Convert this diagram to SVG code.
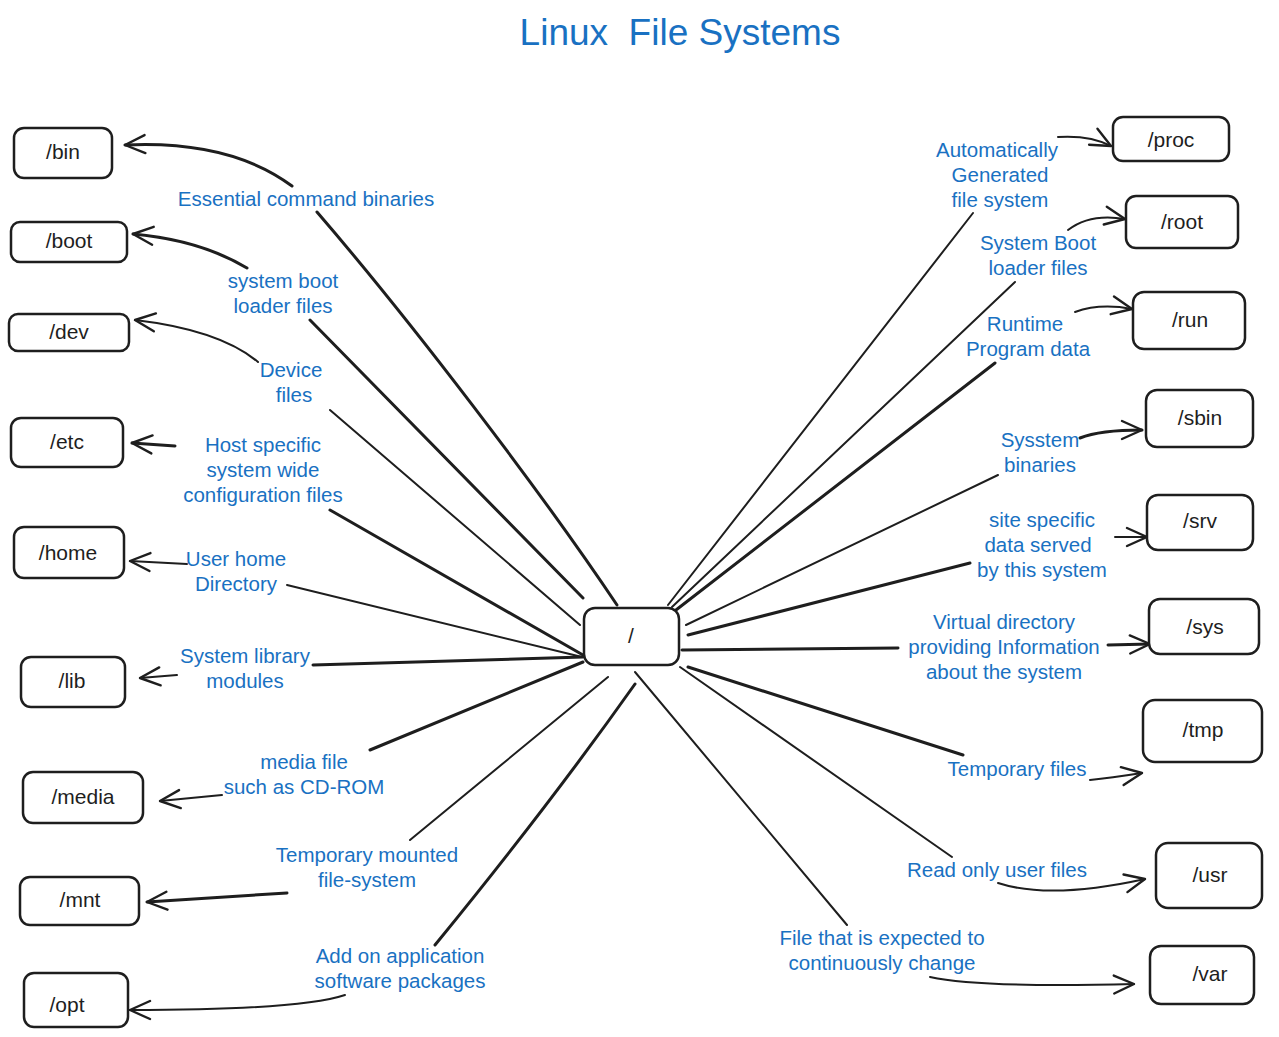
<svg xmlns="http://www.w3.org/2000/svg" width="1279" height="1037" viewBox="0 0 1279 1037">
<defs>
<style>
.box{fill:#fff;stroke:#1e1e1e;stroke-width:2.5}
.nt{font-family:"Liberation Sans","Open Sans",sans-serif;font-size:21px;fill:#1e1e1e;text-anchor:middle}
.lb{font-family:"Liberation Sans","Open Sans",sans-serif;font-size:20.5px;fill:#1971c2;text-anchor:middle}
.c{fill:none;stroke:#1e1e1e;stroke-linecap:round;stroke-linejoin:round}
.w2{stroke-width:2}
.w3{stroke-width:3}
</style>
<marker id="ah" viewBox="-24 -14 28 28" refX="0" refY="0" markerWidth="28" markerHeight="28" markerUnits="userSpaceOnUse" orient="auto">
<path d="M-20,-9 L0,0 L-20,9" fill="none" stroke="#1e1e1e" stroke-width="2.4" stroke-linecap="round" stroke-linejoin="round"/>
</marker>
</defs>
<rect width="1279" height="1037" fill="#fff"/>
<text x="680" y="45" font-family="Liberation Sans, Open Sans, sans-serif" font-size="37" fill="#1971c2" text-anchor="middle" xml:space="preserve">Linux  File Systems</text>

<g id="connectors">
<path class="c w3" d="M617,605 C540,490 410,320 317,212"/>
<path class="c w3" d="M292,186 Q230,140 125,145" marker-end="url(#ah)"/>
<path class="c w3" d="M583,598 L310,320"/>
<path class="c w3" d="M247,268 Q200,240 133,234" marker-end="url(#ah)"/>
<path class="c w2" d="M580,625 L330,410"/>
<path class="c w2" d="M258,362 Q220,330 135,320" marker-end="url(#ah)"/>
<path class="c w3" d="M583,655 L330,510"/>
<path class="c w3" d="M175,446 L132,443" marker-end="url(#ah)"/>
<path class="c w2" d="M582,657 L287,585"/>
<path class="c w2" d="M187,564 L130,561" marker-end="url(#ah)"/>
<path class="c w3" d="M583,657 L313,665"/>
<path class="c w2" d="M177,675 L140,678" marker-end="url(#ah)"/>
<path class="c w3" d="M583,662 L370,750"/>
<path class="c w2" d="M222,795 L160,801" marker-end="url(#ah)"/>
<path class="c w2" d="M608,677 L410,840"/>
<path class="c w3" d="M287,893 L147,902" marker-end="url(#ah)"/>
<path class="c w3" d="M635,684 C560,790 480,890 435,945"/>
<path class="c w2" d="M345,995 Q300,1010 130,1010" marker-end="url(#ah)"/>
<path class="c w2" d="M668,605 L973,213"/>
<path class="c w2" d="M1058,137 Q1090,135 1111,146" marker-end="url(#ah)"/>
<path class="c w2" d="M672,607 L1015,282"/>
<path class="c w2" d="M1068,230 Q1090,213 1125,219" marker-end="url(#ah)"/>
<path class="c w3" d="M676,610 L995,363"/>
<path class="c w2" d="M1075,312 Q1100,303 1132,309" marker-end="url(#ah)"/>
<path class="c w2" d="M686,625 L998,475"/>
<path class="c w3" d="M1080,438 Q1100,430 1142,430" marker-end="url(#ah)"/>
<path class="c w3" d="M688,635 L970,563"/>
<path class="c w2" d="M1115,537 L1147,537" marker-end="url(#ah)"/>
<path class="c w3" d="M682,650 L898,648"/>
<path class="c w3" d="M1108,645 L1150,644" marker-end="url(#ah)"/>
<path class="c w3" d="M688,667 L963,755"/>
<path class="c w2" d="M1090,780 Q1110,778 1142,773" marker-end="url(#ah)"/>
<path class="c w2" d="M680,667 L952,857"/>
<path class="c w2" d="M998,883 Q1050,900 1145,879" marker-end="url(#ah)"/>
<path class="c w2" d="M635,672 L847,925"/>
<path class="c w2" d="M930,977 Q980,988 1134,984" marker-end="url(#ah)"/>
</g>

<g id="labels">
<text class="lb" x="306" y="206">Essential command binaries</text>
<text class="lb" x="283" y="288">system boot</text>
<text class="lb" x="283" y="313">loader files</text>
<text class="lb" x="291" y="377">Device</text>
<text class="lb" x="294" y="402">files</text>
<text class="lb" x="263" y="452">Host specific</text>
<text class="lb" x="263" y="477">system wide</text>
<text class="lb" x="263" y="502">configuration files</text>
<text class="lb" x="236" y="566">User home</text>
<text class="lb" x="236" y="591">Directory</text>
<text class="lb" x="245" y="663">System library</text>
<text class="lb" x="245" y="688">modules</text>
<text class="lb" x="304" y="769">media file</text>
<text class="lb" x="304" y="794">such as CD-ROM</text>
<text class="lb" x="367" y="862">Temporary mounted</text>
<text class="lb" x="367" y="887">file-system</text>
<text class="lb" x="400" y="963">Add on application</text>
<text class="lb" x="400" y="988">software packages</text>
<text class="lb" x="997" y="157">Automatically</text>
<text class="lb" x="1000" y="182">Generated</text>
<text class="lb" x="1000" y="207">file system</text>
<text class="lb" x="1038" y="250">System Boot</text>
<text class="lb" x="1038" y="275">loader files</text>
<text class="lb" x="1025" y="331">Runtime</text>
<text class="lb" x="1028" y="356">Program data</text>
<text class="lb" x="1040" y="447">Sysstem</text>
<text class="lb" x="1040" y="472">binaries</text>
<text class="lb" x="1042" y="527">site specific</text>
<text class="lb" x="1038" y="552">data served</text>
<text class="lb" x="1042" y="577">by this system</text>
<text class="lb" x="1004" y="629">Virtual directory</text>
<text class="lb" x="1004" y="654">providing Information</text>
<text class="lb" x="1004" y="679">about the system</text>
<text class="lb" x="1017" y="776">Temporary files</text>
<text class="lb" x="997" y="877">Read only user files</text>
<text class="lb" x="882" y="945">File that is expected to</text>
<text class="lb" x="882" y="970">continuously change</text>
</g>

<g id="node-root"><rect class="box" x="584" y="608" width="95" height="57" rx="11"/><text class="nt" x="631" y="643">/</text></g>
<g id="node-bin"><rect class="box" x="14" y="128" width="98" height="50" rx="10"/><text class="nt" x="63" y="159">/bin</text></g>
<g id="node-boot"><rect class="box" x="11" y="222" width="116" height="40" rx="9"/><text class="nt" x="69" y="248">/boot</text></g>
<g id="node-dev"><rect class="box" x="9" y="314" width="120" height="37" rx="9"/><text class="nt" x="69" y="339">/dev</text></g>
<g id="node-etc"><rect class="box" x="11" y="418" width="112" height="49" rx="10"/><text class="nt" x="67" y="449">/etc</text></g>
<g id="node-home"><rect class="box" x="14" y="527" width="110" height="51" rx="10"/><text class="nt" x="68" y="560">/home</text></g>
<g id="node-lib"><rect class="box" x="21" y="657" width="104" height="50" rx="10"/><text class="nt" x="72" y="688">/lib</text></g>
<g id="node-media"><rect class="box" x="23" y="772" width="120" height="51" rx="10"/><text class="nt" x="83" y="804">/media</text></g>
<g id="node-mnt"><rect class="box" x="20" y="877" width="119" height="48" rx="10"/><text class="nt" x="80" y="907">/mnt</text></g>
<g id="node-opt"><rect class="box" x="24" y="973" width="104" height="54" rx="10"/><text class="nt" x="67" y="1012">/opt</text></g>
<g id="node-proc"><rect class="box" x="1113" y="117" width="116" height="44" rx="10"/><text class="nt" x="1171" y="147">/proc</text></g>
<g id="node-rootdir"><rect class="box" x="1126" y="196" width="112" height="52" rx="10"/><text class="nt" x="1182" y="229">/root</text></g>
<g id="node-run"><rect class="box" x="1133" y="292" width="112" height="57" rx="11"/><text class="nt" x="1190" y="327">/run</text></g>
<g id="node-sbin"><rect class="box" x="1146" y="390" width="107" height="57" rx="11"/><text class="nt" x="1200" y="425">/sbin</text></g>
<g id="node-srv"><rect class="box" x="1147" y="495" width="106" height="55" rx="11"/><text class="nt" x="1200" y="528">/srv</text></g>
<g id="node-sys"><rect class="box" x="1149" y="599" width="110" height="55" rx="11"/><text class="nt" x="1205" y="634">/sys</text></g>
<g id="node-tmp"><rect class="box" x="1143" y="700" width="119" height="62" rx="12"/><text class="nt" x="1203" y="737">/tmp</text></g>
<g id="node-usr"><rect class="box" x="1156" y="843" width="106" height="65" rx="12"/><text class="nt" x="1210" y="882">/usr</text></g>
<g id="node-var"><rect class="box" x="1150" y="946" width="104" height="58" rx="11"/><text class="nt" x="1210" y="981">/var</text></g>
</svg>
